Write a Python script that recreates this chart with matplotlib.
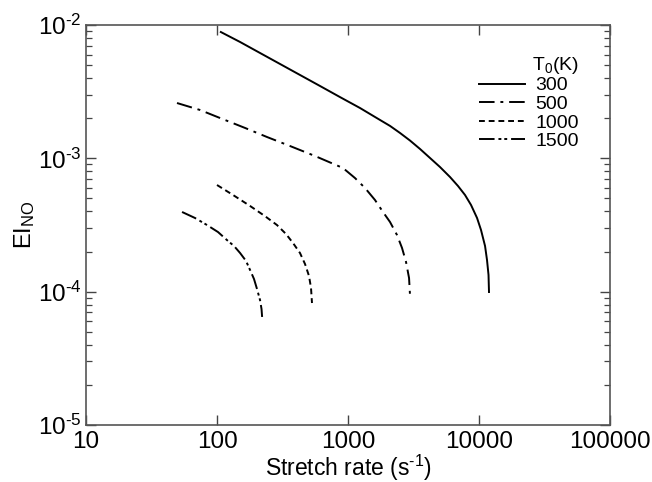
import matplotlib
matplotlib.use("Agg")
import matplotlib.pyplot as plt
from matplotlib.ticker import FixedLocator, LogLocator, NullLocator, NullFormatter

plt.rcParams['font.family'] = ['Liberation Sans', 'DejaVu Sans']
plt.rcParams['mathtext.fontset'] = 'custom'
plt.rcParams['mathtext.rm'] = 'Liberation Sans'
plt.rcParams['mathtext.it'] = 'Liberation Sans'

# values: stretch rate (1/s) and EI_NO
rate_300 = [107, 150, 213, 303, 430, 611, 869, 1235, 1755, 2094, 2494, 2973, 3548, 4227, 5036,
            6010, 6915, 7820, 8690, 9661, 10360, 11120, 11510, 11820, 11920]
ei_300 = [8.86e-3, 7.46e-3, 6.17e-3, 5.10e-3, 4.22e-3, 3.49e-3, 2.88e-3, 2.385e-3, 1.94e-3,
          1.75e-3, 1.55e-3, 1.36e-3, 1.175e-3, 1.006e-3, 8.61e-4, 7.24e-4, 6.20e-4, 5.31e-4,
          4.47e-4, 3.57e-4, 2.90e-4, 2.20e-4, 1.728e-4, 1.334e-4, 9.94e-5]

rate_500 = [49.5, 74.2, 105, 164, 241, 361, 560, 916, 1130, 1349, 1607, 1849, 2093, 2366,
            2583, 2773, 2924, 2973]
ei_500 = [2.60e-3, 2.305e-3, 2.01e-3, 1.689e-3, 1.445e-3, 1.237e-3, 1.041e-3, 8.46e-4, 7.12e-4,
          5.99e-4, 4.87e-4, 3.96e-4, 3.33e-4, 2.66e-4, 2.13e-4, 1.67e-4, 1.266e-4, 9.44e-5]

rate_1000 = [100, 132.5, 179, 232, 287, 336, 380, 430, 470, 504, 522, 531]
ei_1000 = [6.31e-4, 5.31e-4, 4.39e-4, 3.69e-4, 3.16e-4, 2.71e-4, 2.32e-4, 1.95e-4, 1.61e-4,
           1.31e-4, 1.065e-4, 8.22e-5]

rate_1500 = [54.1, 67.9, 83.9, 101.8, 119, 134.9, 150, 166.5, 179, 191.6, 202, 213, 218.7, 221]
ei_1500 = [3.96e-4, 3.57e-4, 3.16e-4, 2.80e-4, 2.44e-4, 2.20e-4, 1.95e-4, 1.70e-4, 1.45e-4,
           1.245e-4, 1.047e-4, 8.66e-5, 7.41e-5, 6.46e-5]

labels = ["300", "500", "1000", "1500"]
xticks = [10, 100, 1000, 10000, 100000]
xtick_labels = ["10", "100", "1000", "10000", "100000"]
yticks = [1e-5, 1e-4, 1e-3, 1e-2]
ytick_labels = ["$10^{\\text{-}5}$", "$10^{\\text{-}4}$", "$10^{\\text{-}3}$", "$10^{\\text{-}2}$"]

fig = plt.figure(figsize=(6.52, 4.82), dpi=100)
ax = fig.add_axes([0.1319, 0.1183, 0.8037, 0.8298])

lw = 1.4
ax.plot(rate_300, ei_300, color="black", lw=lw, linestyle="-", label=labels[0])
ax.plot(rate_500, ei_500, color="black", lw=lw, linestyle=(0, (8, 3, 1.5, 3)), label=labels[1])
ax.plot(rate_1000, ei_1000, color="black", lw=lw, linestyle=(0, (3, 2)), label=labels[2])
ax.plot(rate_1500, ei_1500, color="black", lw=lw, linestyle=(0, (8, 2, 1.5, 1.5, 1.5, 2)), label=labels[3])

ax.set_xscale("log")
ax.set_yscale("log")
ax.set_xlim(10, 100000)
ax.set_ylim(1e-5, 1e-2)

ax.xaxis.set_major_locator(FixedLocator(xticks))
ax.set_xticklabels(xtick_labels)
ax.xaxis.set_minor_locator(NullLocator())
ax.yaxis.set_major_locator(FixedLocator(yticks))
ax.set_yticklabels(ytick_labels)
ax.yaxis.set_minor_locator(LogLocator(base=10, subs=range(2, 10)))
ax.yaxis.set_minor_formatter(NullFormatter())

ax.tick_params(which="both", direction="in", top=True, right=True, color="#444444")
ax.tick_params(which="major", length=7, width=1.0, labelsize=17.5)
ax.tick_params(axis="x", which="major", pad=4)
ax.tick_params(axis="y", which="major", pad=3)
ax.tick_params(which="minor", length=4, width=0.9)
for s in ax.spines.values():
    s.set_color("#555555")
    s.set_linewidth(1.2)

ax.set_xlabel("Stretch rate (s$^{\\text{-}1}$)", fontsize=16.5, labelpad=0)
ax.set_ylabel("EI$_{\\rm NO}$", fontsize=17, labelpad=1)

leg = ax.legend(title="T$_0$(K)", loc="upper right", bbox_to_anchor=(0.955, 0.945),
                frameon=False, fontsize=14, title_fontsize=14, handlelength=2.4,
                handletextpad=0.5, labelspacing=0.05, borderaxespad=0)
leg._legend_box.align = "right"

fig.savefig("out.png", dpi=100)
